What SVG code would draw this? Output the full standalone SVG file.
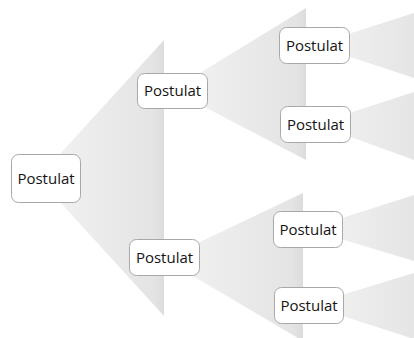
<svg xmlns="http://www.w3.org/2000/svg" width="414" height="338" viewBox="0 0 414 338">
  <defs>
    <linearGradient id="fan" x1="0" y1="0" x2="1" y2="0">
      <stop offset="0" stop-color="#f3f3f3"/>
      <stop offset="0.92" stop-color="#e4e4e4"/>
      <stop offset="1" stop-color="#dcdcdc"/>
    </linearGradient>
    <linearGradient id="fan3" x1="0" y1="0" x2="1" y2="0">
      <stop offset="0" stop-color="#f3f3f3"/>
      <stop offset="1" stop-color="#e5e5e5"/>
    </linearGradient>
    <style>
      .box { fill: #ffffff; stroke: #a8a8a8; stroke-width: 1; }
      .lbl { font-family: "Open Sans", "Noto Sans", "Liberation Sans", sans-serif; font-size: 15px; fill: #141414; text-anchor: middle; }
      .f2 { fill: url(#fan); }
      .f3 { fill: url(#fan3); }
    </style>
  </defs>
  <rect width="414" height="338" fill="#ffffff"/>
  <g id="connectors">
    <polygon class="f2" points="38,178 164,40 164,316"/>
    <polygon class="f2" points="172,90 306,8 306,160"/>
    <polygon class="f2" points="164,259 303,193 303,341"/>
    <polygon class="f3" points="314,45 414,13 414,78"/>
    <polygon class="f3" points="315,124 414,92 414,160"/>
    <polygon class="f3" points="307.5,229 414,195 414,261"/>
    <polygon class="f3" points="308.5,305 414,273 414,339"/>
  </g>
  <g id="n-root">
    <rect class="box" x="11.5" y="154.5" width="69" height="48" rx="7"/>
    <text class="lbl" x="46" y="184">Postulat</text>
  </g>
  <g id="n-a">
    <rect class="box" x="137.5" y="73.5" width="70" height="35" rx="7"/>
    <text class="lbl" x="172.5" y="96">Postulat</text>
  </g>
  <g id="n-b">
    <rect class="box" x="129.5" y="239.5" width="70" height="36" rx="7"/>
    <text class="lbl" x="164.5" y="262.5">Postulat</text>
  </g>
  <g id="n-a1">
    <rect class="box" x="279.5" y="27.5" width="70" height="36" rx="7"/>
    <text class="lbl" x="314.5" y="50.5">Postulat</text>
  </g>
  <g id="n-a2">
    <rect class="box" x="280.5" y="106.5" width="70" height="36" rx="7"/>
    <text class="lbl" x="315.5" y="129.5">Postulat</text>
  </g>
  <g id="n-b1">
    <rect class="box" x="273.5" y="211.5" width="69" height="36" rx="7"/>
    <text class="lbl" x="308" y="234.5">Postulat</text>
  </g>
  <g id="n-b2">
    <rect class="box" x="274.5" y="287.5" width="69" height="36" rx="7"/>
    <text class="lbl" x="309" y="310.5">Postulat</text>
  </g>
</svg>
